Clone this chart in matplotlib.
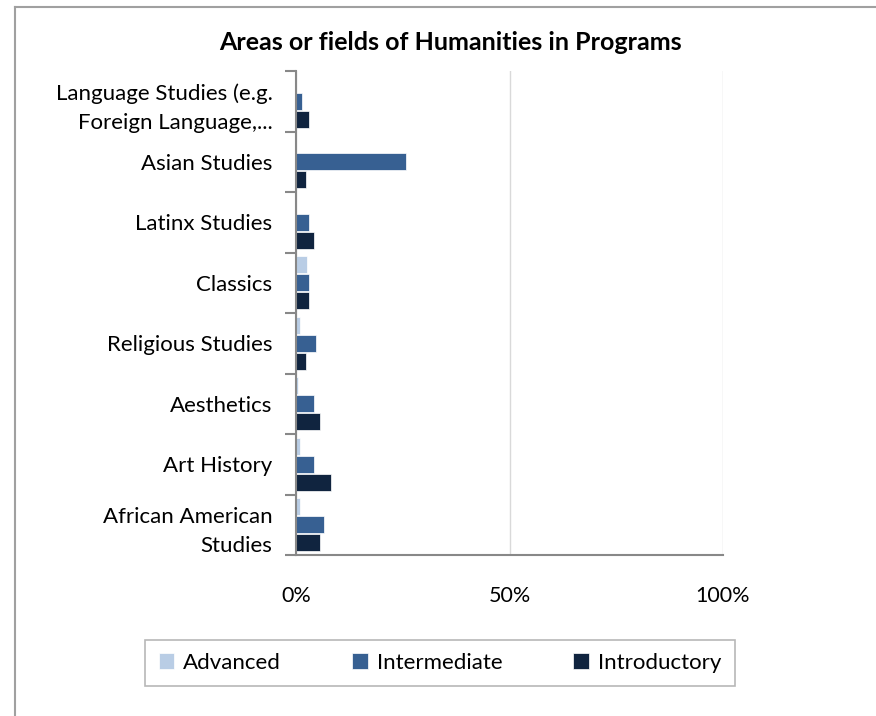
import numpy as np
import matplotlib
matplotlib.use("Agg")
import matplotlib.pyplot as plt
from matplotlib.lines import Line2D

plt.rcParams['font.family'] = ['Lato', 'DejaVu Sans']

# categories top to bottom
categories = ["Language Studies (e.g.\nForeign Language,...", "Asian Studies", "Latinx Studies",
              "Classics", "Religious Studies", "Aesthetics", "Art History",
              "African American\nStudies"]
advanced = [0.0, 0.0, 0.0, 2.6, 0.9, 0.5, 0.9, 0.9]
intermediate = [1.5, 25.8, 3.1, 3.1, 4.8, 4.1, 4.1, 6.5]
introductory = [3.1, 2.3, 4.1, 3.1, 2.3, 5.7, 8.2, 5.7]
series_names = ["Advanced", "Intermediate", "Introductory"]
colors = ["#b9cde5", "#376092", "#10243f"]

fig = plt.figure(figsize=(8.76, 7.16), dpi=100)
ax = fig.add_axes([296/876, 1-555/716, (723-296)/876, (555-71)/716])

y = np.arange(len(categories))
h = 0.3
for k, (vals, name, col) in enumerate(zip([advanced, intermediate, introductory], series_names, colors)):
    ax.barh(y + (k-1)*h + 0.0, vals, height=h-0.02, color=col, label=name,
            edgecolor="white", linewidth=0.5)

ax.set_ylim(len(categories)-0.5, -0.5)
ax.set_xlim(0, 100)
ax.set_xticks([0, 50, 100])
ax.set_xticklabels(["0%", "50%", "100%"], fontsize=15.5)
ax.tick_params(axis='x', length=0, pad=22)
ax.set_yticks(y)
ax.set_yticklabels(categories, fontsize=16, linespacing=1.6)
ax.set_yticks(np.arange(len(categories)+1) - 0.5, minor=True)
ax.tick_params(axis='y', which='major', length=0, pad=17)
ax.tick_params(axis='y', which='minor', length=8, color="#888888", width=1.5)
ax.grid(axis='x', color="#d9d9d9", linewidth=1)
ax.set_axisbelow(True)
for s in ["top", "right"]:
    ax.spines[s].set_visible(False)
for s in ["left", "bottom"]:
    ax.spines[s].set_color("#888888")
    ax.spines[s].set_linewidth(1.5)

fig.text(450/876, 1-42/716, "Areas or fields of Humanities in Programs", fontsize=18,
         fontweight="bold", ha="center", va="center")

leg = fig.legend(loc="center", bbox_to_anchor=(440/876, 1-663/716), ncol=3, fontsize=16,
                 frameon=True, fancybox=False, edgecolor="#a6a6a6", handlelength=0.7,
                 handleheight=0.7, columnspacing=3.2, borderpad=0.6, handletextpad=0.4,
                 borderaxespad=0)
leg.get_frame().set_linewidth(1.2)
leg.get_frame().set_boxstyle("square", pad=0)
leg._legend_box.sep = 0

# outer chart frame
fig.add_artist(Line2D([15/876, 15/876], [0, 1-7/716], color="#a0a0a0", linewidth=1.5))
fig.add_artist(Line2D([15/876, 1], [1-7/716, 1-7/716], color="#a0a0a0", linewidth=1.5))

fig.savefig("out.png", dpi=100)
